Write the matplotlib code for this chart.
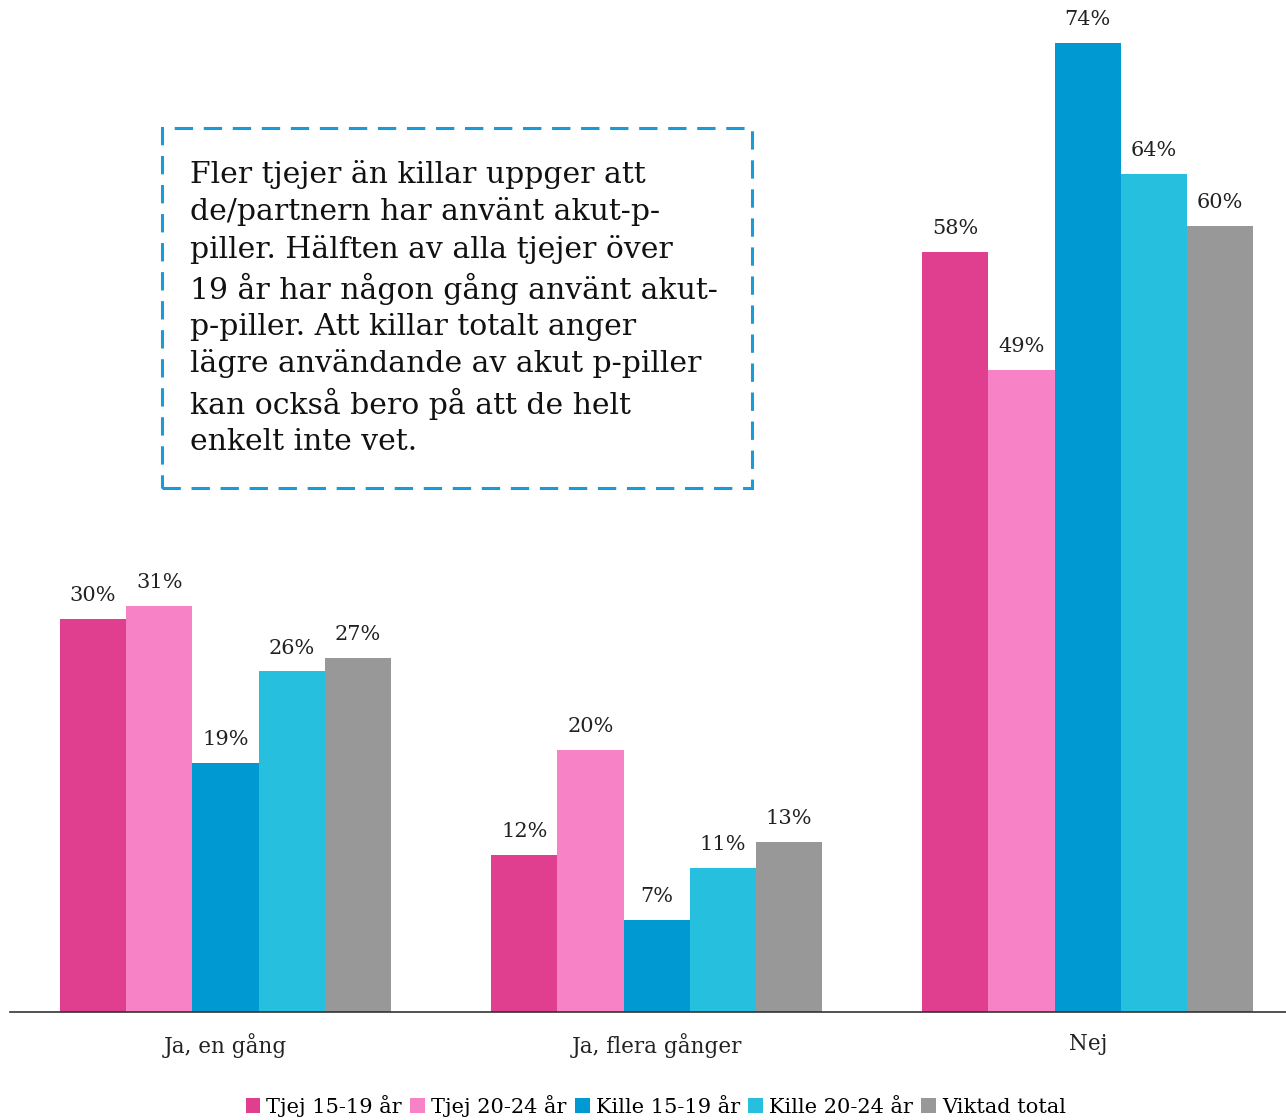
import matplotlib
matplotlib.use("Agg")
import matplotlib.pyplot as plt
import numpy as np
from matplotlib.patches import Rectangle, Patch

categories = ["Ja, en gång", "Ja, flera gånger", "Nej"]
series_names = ["Tjej 15-19 år", "Tjej 20-24 år", "Kille 15-19 år", "Kille 20-24 år", "Viktad total"]
tjej_15_19 = [30, 12, 58]
tjej_20_24 = [31, 20, 49]
kille_15_19 = [19, 7, 74]
kille_20_24 = [26, 11, 64]
viktad_total = [27, 13, 60]
series_values = [tjej_15_19, tjej_20_24, kille_15_19, kille_20_24, viktad_total]
colors = ["#E03E8F", "#F783C6", "#0099D1", "#26C0DE", "#989898"]

box_text = ("Fler tjejer än killar uppger att\n"
            "de/partnern har använt akut-p-\n"
            "piller. Hälften av alla tjejer över\n"
            "19 år har någon gång använt akut-\n"
            "p-piller. Att killar totalt anger\n"
            "lägre användande av akut p-piller\n"
            "kan också bero på att de helt\n"
            "enkelt inte vet.")

FONT = "DejaVu Serif"
W, H = 1286, 1120
fig = plt.figure(figsize=(W / 100, H / 100), dpi=100)
ax = fig.add_axes([10 / W, (H - 1012) / H, 1 - 10 / W, 1012 / H])

x = np.arange(len(categories))
bw = 66.2 / 431
n = len(series_values)
for i, (vals, c, name) in enumerate(zip(series_values, colors, series_names)):
    pos = x + (i - (n - 1) / 2) * bw
    bars = ax.bar(pos, vals, width=bw, color=c, label=name, linewidth=0)
    ax.bar_label(bars, labels=[f"{v}%" for v in vals], padding=10,
                 fontsize=15, family=FONT, color="#222222")

ax.set_xlim(-0.5, 2.46)
ax.set_ylim(0, 1012 / 13.1)
for s in ["top", "right", "left"]:
    ax.spines[s].set_visible(False)
ax.spines["bottom"].set_color("#333333")
ax.spines["bottom"].set_linewidth(1.2)
ax.set_yticks([])
ax.set_xticks(x)
ax.set_xticklabels(categories, fontsize=15.5, family=FONT, color="#222222")
ax.tick_params(axis="x", length=0, pad=15)

# annotation box
rect = Rectangle((162 / W, 1 - 488 / H), (752 - 162) / W, (488 - 128) / H,
                 transform=fig.transFigure, fill=False, edgecolor="#1A9AD6",
                 linewidth=2.2, linestyle=(0, (6, 3.5)))
fig.add_artist(rect)
fig.text(190 / W, 1 - 160 / H, box_text, ha="left", va="top",
         fontsize=21.5, family=FONT, color="#111111", linespacing=1.36)

handles = [Patch(facecolor=c, edgecolor="none") for c in colors]
fig.legend(handles, series_names, loc="lower center", bbox_to_anchor=(0.51, -0.014),
           ncol=5, frameon=False, handlelength=0.7, handleheight=0.7,
           handletextpad=0.3, columnspacing=0.4,
           prop={"family": FONT, "size": 15})

fig.savefig("out.png", dpi=100, facecolor="white")
